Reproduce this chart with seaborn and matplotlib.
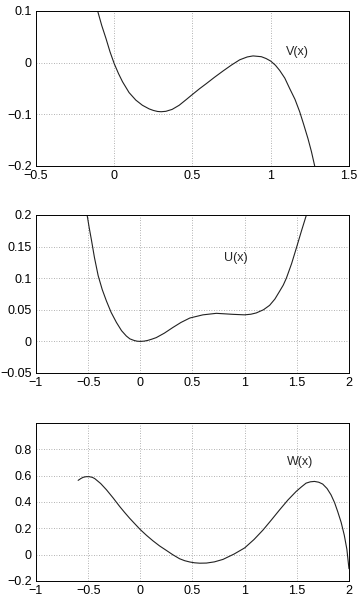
import numpy as np
import pandas as pd
import matplotlib
matplotlib.use("Agg")
import matplotlib.pyplot as plt
import seaborn as sns

# values
v_x = [-0.106, -0.08, -0.053, -0.027, 0.0, 0.027, 0.053, 0.095, 0.138, 0.18, 0.223, 0.25, 0.277, 0.30, 0.33, 0.37,
       0.415, 0.46, 0.5, 0.545, 0.589, 0.64, 0.696, 0.75, 0.802, 0.85, 0.887, 0.94, 0.97, 1.0, 1.03, 1.057, 1.09,
       1.121, 1.155, 1.185, 1.21, 1.238, 1.26, 1.281]
v_y = [0.1, 0.072, 0.047, 0.021, -0.002, -0.021, -0.037, -0.058, -0.0725, -0.0825, -0.0895, -0.0925, -0.0945, -0.095,
       -0.0942, -0.0905, -0.0825, -0.0715, -0.0615, -0.0505, -0.0405, -0.0285, -0.016, -0.0045, 0.0055, 0.011, 0.013,
       0.0115, 0.008, 0.003, -0.005, -0.015, -0.03, -0.05, -0.071, -0.095, -0.119, -0.147, -0.172, -0.2]

u_x = [-0.51, -0.49, -0.468, -0.44, -0.404, -0.365, -0.325, -0.28, -0.229, -0.18, -0.134, -0.1, -0.06, -0.03, 0.0,
       0.035, 0.07, 0.11, 0.153, 0.23, 0.312, 0.39, 0.475, 0.6, 0.729, 0.889, 1.0, 1.06, 1.111, 1.18, 1.239, 1.29,
       1.334, 1.37, 1.40, 1.45, 1.5, 1.545, 1.592]
u_y = [0.2, 0.18, 0.16, 0.133, 0.104, 0.082, 0.064, 0.046, 0.03, 0.017, 0.0085, 0.004, 0.0015, 0.0003, 0.0,
       0.0004, 0.0015, 0.0035, 0.006, 0.013, 0.022, 0.03, 0.037, 0.042, 0.0444, 0.0428, 0.042, 0.043, 0.045, 0.05,
       0.057, 0.067, 0.079, 0.089, 0.1, 0.123, 0.15, 0.175, 0.2]

w_x = [-0.596, -0.57, -0.548, -0.52, -0.49, -0.46, -0.436, -0.38, -0.325, -0.26, -0.197, -0.15, -0.102, -0.05, 0.0,
       0.06, 0.121, 0.185, 0.248, 0.31, 0.376, 0.425, 0.475, 0.52, 0.57, 0.634, 0.71, 0.793, 0.9, 1.0, 1.09,
       1.175, 1.255, 1.334, 1.415, 1.494, 1.545, 1.589, 1.63, 1.669, 1.71, 1.748, 1.79, 1.828, 1.862, 1.892, 1.925,
       1.955, 1.98, 2.0]
w_y = [0.564, 0.578, 0.587, 0.592, 0.592, 0.587, 0.577, 0.54, 0.493, 0.43, 0.365, 0.32, 0.276, 0.232, 0.19,
       0.146, 0.105, 0.066, 0.033, 0.0, -0.031, -0.046, -0.056, -0.062, -0.065, -0.064, -0.055, -0.036, 0.005,
       0.051, 0.115, 0.186, 0.262, 0.339, 0.415, 0.48, 0.515, 0.543, 0.553, 0.556, 0.55, 0.536, 0.502, 0.454,
       0.395, 0.327, 0.245, 0.148, 0.04, -0.107]

v_xticks = [-0.5, 0, 0.5, 1, 1.5]
v_yticks = [-0.2, -0.1, 0, 0.1]
u_xticks = [-1, -0.5, 0, 0.5, 1, 1.5, 2]
u_yticks = [-0.05, 0, 0.05, 0.1, 0.15, 0.2]
w_xticks = [-1, -0.5, 0, 0.5, 1, 1.5, 2]
w_yticks = [-0.2, 0, 0.2, 0.4, 0.6, 0.8]

sns.set_style("white")
plt.rcParams["font.family"] = ["Liberation Sans", "DejaVu Sans"]
plt.rcParams["font.size"] = 9


def fmt(t):
    return ("%g" % t).replace("-", "\u2212")


fig = plt.figure(figsize=(3.62, 5.99), dpi=100)
ax1 = fig.add_axes([0.0994, 0.7229, 0.8646, 0.2588])
ax2 = fig.add_axes([0.0994, 0.3773, 0.8646, 0.2638])
ax3 = fig.add_axes([0.0994, 0.0301, 0.8646, 0.2638])

panels = [
    (ax1, v_x, v_y, (-0.5, 1.5), (-0.2, 0.1), v_xticks, v_yticks, "V(x)", (1.1, 0.02)),
    (ax2, u_x, u_y, (-1, 2), (-0.05, 0.2), u_xticks, u_yticks, "U(x)", (0.8, 0.132)),
    (ax3, w_x, w_y, (-1, 2), (-0.2, 1.0), w_xticks, w_yticks, "W(x)", (1.41, 0.7)),
]

for ax, xs, ys, xl, yl, xt, yt, lab, pos in panels:
    df = pd.DataFrame({"x": xs, "y": ys})
    sns.lineplot(data=df, x="x", y="y", ax=ax, color="#222222", linewidth=0.8,
                 sort=False, estimator=None)
    ax.set_xlim(*xl)
    ax.set_ylim(*yl)
    ax.set_xticks(xt)
    ax.set_yticks(yt)
    ax.set_xticklabels([fmt(t) for t in xt])
    ax.set_yticklabels([fmt(t) for t in yt])
    ax.grid(True, color="#999999", linestyle=(0, (1, 2)), linewidth=0.6)
    ax.tick_params(direction="in", length=3, width=0.6, labelsize=9, colors="black", pad=3)
    ax.set_xlabel("")
    ax.set_ylabel("")
    for s in ax.spines.values():
        s.set_color("black")
        s.set_linewidth(0.7)
    ax.text(pos[0], pos[1], lab, fontsize=9, va="center", ha="left")

fig.savefig("out.png", dpi=100)
